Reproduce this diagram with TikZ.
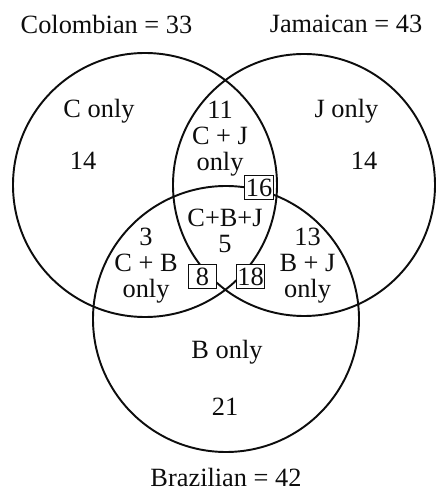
\documentclass[tikz,border=0pt]{standalone}
\usepackage{fontspec}
\setmainfont{Liberation Serif}
\usepackage{xcolor}
\usepackage{tikz}
\definecolor{VennInk}{gray}{0.05}
\tikzset{
  venn/.style={font=\fontsize{15}{14.8}\selectfont,text=VennInk},
  ring/.style={draw=VennInk,circle,line width=1.1pt,inner sep=0pt},
  tally/.style={draw=VennInk,fill=white,line width=0.7pt,inner sep=0.5pt,
    minimum width=0.57cm,minimum height=0.48cm},
  region/.style={align=center,inner sep=0pt},
}

\begin{document}
\begin{tikzpicture}[venn]
  \useasboundingbox (0,0) rectangle (8.76,9.84);

  % the three sets
  \node[ring,minimum size=5.28cm] (colombian) at (2.90,6.14) {};
  \node[ring,minimum size=5.24cm] (jamaican) at (6.08,6.14) {};
  \node[ring,minimum size=5.32cm] (brazilian) at (4.52,3.46) {};

  \node[region] (ctitle) at (2.13,9.36) {Colombian = 33};
  \node[region] (jtitle) at (6.92,9.36) {Jamaican = 43};
  \node[region] (btitle) at (4.52,0.29) {Brazilian = 42};

  % regions
  \node[region] (conly) at (1.98,7.62) {C only};
  \node[region] (cval) at (1.66,6.62) {14};
  \node[region] (jonly) at (6.93,7.62) {J only};
  \node[region] (jval) at (7.28,6.62) {14};
  \node[region] (cj) at (4.40,7.06) {11\\C + J\\only};
  \node[region] (cbj) at (4.50,5.22) {C+B+J\\5};
  \node[region] (cb) at (2.92,4.53) {3\\C + B\\only};
  \node[region] (bj) at (6.15,4.53) {13\\B + J\\only};
  \node[region] (bonly) at (4.54,2.80) {B only};
  \node[region] (bval) at (4.50,1.71) {21};

  % boxed pair totals
  \node[tally] (cjsum) at (5.18,6.09) {16};
  \node[tally] (cbsum) at (4.05,4.31) {8};
  \node[tally] (bjsum) at (5.01,4.31) {18};
\end{tikzpicture}
\end{document}
